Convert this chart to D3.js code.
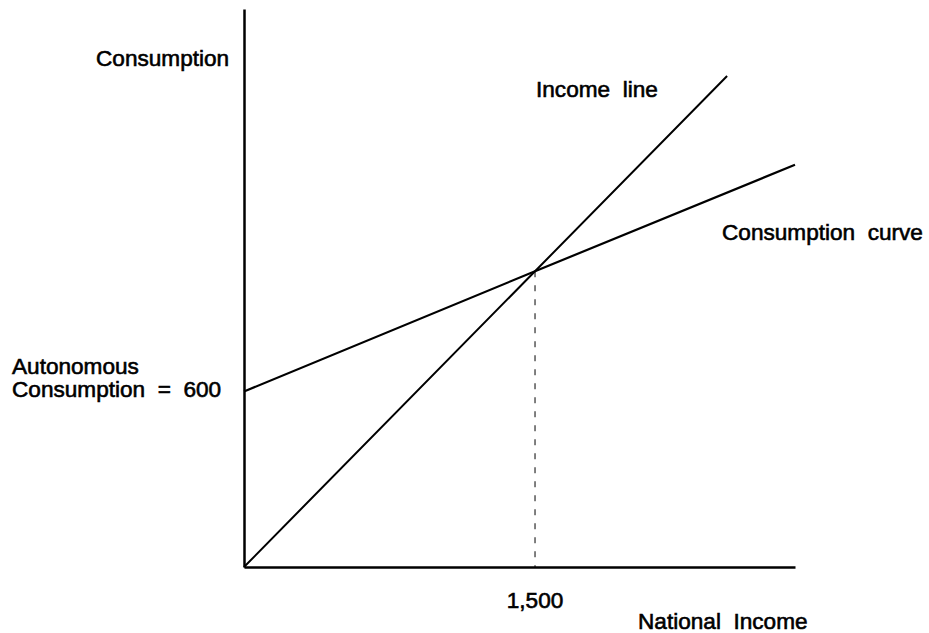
<!DOCTYPE html>
<html>
<head>
<meta charset="utf-8">
<script src="https://cdn.jsdelivr.net/npm/d3@7"></script>
<style>
  body { margin: 0; background: #fff; }
  text { font-family: "Liberation Sans", Arial, sans-serif; font-size: 22.6px; fill: #000; stroke: #000; stroke-width: 0.6px; white-space: pre; }
</style>
</head>
<body>
<svg id="chart"></svg>
<script>
// data (schematic units)
const incomeX = [0, 1500, 2490];
const incomeY = [0, 1500, 2490];
const consX = [0, 1500, 2840];
const consY = [890, 1500, 2040];
const equilibrium = 1500;
const xTickLabels = ['1,500'];

// 1. canvas
const width = 929, height = 633;
const padding = { top: 9, right: 134, bottom: 66, left: 244 };

const svg = d3.select('#chart')
    .attr('width', width)
    .attr('height', height);

// 2. scales
let xScale = d3.scaleLinear()
    .domain([0, 2840])
    .range([padding.left, width - padding.right]);
let yScale = d3.scaleLinear()
    .domain([0, 2830])
    .range([height - padding.bottom, padding.top]);

const line = d3.line()
    .x(d => xScale(d[0]))
    .y(d => yScale(d[1]));

// 3. dashed drop line at equilibrium
svg.append('line')
    .attr('x1', xScale(equilibrium)).attr('x2', xScale(equilibrium))
    .attr('y1', yScale(equilibrium)).attr('y2', yScale(0))
    .attr('stroke', '#000')
    .attr('stroke-width', 1)
    .attr('stroke-dasharray', '6,8');

// 4. lines
svg.append('path')
    .datum(d3.zip(incomeX, incomeY))
    .attr('d', line)
    .attr('fill', 'none')
    .attr('stroke', '#000')
    .attr('stroke-width', 2);

svg.append('path')
    .datum(d3.zip(consX, consY))
    .attr('d', line)
    .attr('fill', 'none')
    .attr('stroke', '#000')
    .attr('stroke-width', 2.2);

// 5. axes (no ticks, just the lines)
svg.append('g')
    .attr('class', 'bottom-axis')
    .attr('transform', 'translate(0,' + yScale(0) + ')')
    .call(d3.axisBottom(xScale).tickValues([]).tickSizeOuter(0))
    .select('.domain').attr('stroke-width', 2.5);

svg.append('g')
    .attr('class', 'left-axis')
    .attr('transform', 'translate(' + xScale(0) + ',0)')
    .call(d3.axisLeft(yScale).tickValues([]).tickSizeOuter(0))
    .select('.domain').attr('stroke-width', 2.5);

// 6. labels
svg.append('text').attr('x', 96).attr('y', 66).text('Consumption');
svg.append('text').attr('x', 536).attr('y', 97).text('Income  line');
svg.append('text').attr('x', 722).attr('y', 240).text('Consumption  curve');
svg.append('text').attr('x', 12).attr('y', 374).text('Autonomous');
svg.append('text').attr('x', 12).attr('y', 397).text('Consumption  =  600');
svg.append('text').attr('x', xScale(equilibrium)).attr('y', 608)
    .attr('text-anchor', 'middle').text(xTickLabels[0]);
svg.append('text').attr('x', 638).attr('y', 629).text('National  Income');
</script>
</body>
</html>
